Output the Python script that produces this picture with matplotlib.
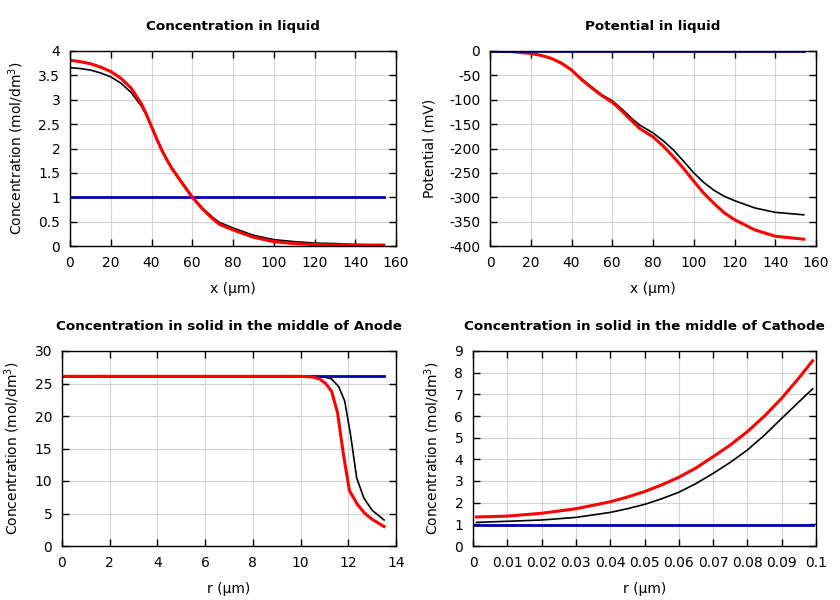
import matplotlib
matplotlib.use("Agg")
import matplotlib.pyplot as plt
from matplotlib.ticker import FuncFormatter, MultipleLocator

# ---- Data ----
# Concentration in liquid
liq_x = [0, 5, 10, 15, 20, 25, 30, 35, 37.5, 40, 42.5, 45, 47.5, 50, 55, 60, 65, 70, 73.5,
         80, 90, 100, 110, 120, 130, 140, 154]
liq_c_red = [3.81, 3.78, 3.74, 3.67, 3.58, 3.44, 3.24, 2.92, 2.70, 2.45, 2.20, 1.97, 1.77, 1.59,
             1.29, 1.00, 0.76, 0.56, 0.44, 0.33, 0.18, 0.09, 0.05, 0.03, 0.02, 0.02, 0.02]
liq_c_black = [3.66, 3.64, 3.61, 3.55, 3.47, 3.34, 3.15, 2.87, 2.68, 2.46, 2.22, 1.99, 1.79, 1.61,
               1.31, 1.02, 0.78, 0.59, 0.48, 0.37, 0.22, 0.13, 0.09, 0.06, 0.05, 0.03, 0.02]
liq_c_blue_x = [0, 154]
liq_c_blue = [1.0, 1.0]

# Potential in liquid
pot_x = [0, 10, 20, 25, 30, 35, 40, 45, 50, 55, 60, 65, 70, 73.5, 80, 85, 90, 95, 100, 105,
         110, 115, 120, 130, 140, 154]
pot_red = [0, -1, -5, -9, -15, -25, -39, -59, -76, -92, -105, -124, -145, -159, -176, -195, -217,
           -241, -267, -292, -313, -332, -346, -367, -380, -386]
pot_black = [0, -1, -5, -9, -15, -24, -38, -57, -74, -90, -102, -120, -140, -152, -168, -184, -203,
             -226, -250, -270, -286, -298, -307, -322, -331, -336]
pot_blue_x = [0, 154]
pot_blue = [0, 0]

# Concentration in solid, anode
an_x_black = [0.1, 2, 4, 6, 8, 10, 10.5, 10.8, 11.0, 11.3, 11.6, 11.85, 12.1, 12.35, 12.65, 13.0, 13.5]
an_black = [26.1, 26.1, 26.1, 26.1, 26.1, 26.1, 26.1, 26.05, 26.0, 25.7, 24.5, 22.3, 17.0, 10.5, 7.4, 5.5, 4.0]
an_x_red = [0.1, 2, 4, 6, 8, 10, 10.5, 10.8, 11.05, 11.3, 11.55, 11.8, 12.05, 12.4, 12.7, 13.0, 13.5]
an_red = [26.1, 26.1, 26.1, 26.1, 26.1, 26.1, 26.0, 25.7, 25.0, 23.8, 20.5, 14.0, 8.5, 6.3, 5.0, 4.1, 3.0]
an_blue_x = [0.1, 13.5]
an_blue = [26.1, 26.1]

# Concentration in solid, cathode
ca_x = [0.001, 0.01, 0.02, 0.03, 0.04, 0.045, 0.05, 0.055, 0.06, 0.065, 0.07, 0.075,
        0.08, 0.085, 0.09, 0.095, 0.099]
ca_red = [1.34, 1.38, 1.51, 1.72, 2.04, 2.26, 2.51, 2.82, 3.17, 3.60, 4.12, 4.66,
          5.28, 6.00, 6.82, 7.75, 8.55]
ca_black = [1.09, 1.14, 1.20, 1.32, 1.55, 1.72, 1.92, 2.18, 2.48, 2.88, 3.35, 3.86,
            4.43, 5.12, 5.89, 6.65, 7.25]
ca_blue_x = [0.0, 0.099]
ca_blue = [0.97, 0.97]

titles = ["Concentration in liquid", "Potential in liquid",
          "Concentration in solid in the middle of Anode",
          "Concentration in solid in the middle of Cathode"]

RED = "#ff0000"
BLUE = "#0000b0"
BLACK = "#000000"

fig = plt.figure(figsize=(8.4, 6.0), dpi=100)
W, H = 840.0, 600.0

def make_ax(l, r, t, b):
    return fig.add_axes([l / W, (H - b) / H, (r - l) / W, (b - t) / H])

def style(ax, title, xlabel, ylabel):
    ax.set_title(title, fontsize=9.7, fontweight="bold", pad=15)
    ax.set_xlabel(xlabel, fontsize=10, labelpad=9)
    ax.set_ylabel(ylabel, fontsize=10, labelpad=9)
    ax.tick_params(direction="in", length=5, width=1, top=True, right=True,
                   labelsize=10, pad=7)
    ax.grid(True, color="#d3d3d3", linewidth=0.8)
    ax.set_axisbelow(True)
    for s in ax.spines.values():
        s.set_linewidth(1.0)
    ax.xaxis.set_major_formatter(FuncFormatter(lambda v, p: "%g" % round(v, 6)))
    ax.yaxis.set_major_formatter(FuncFormatter(lambda v, p: "%g" % round(v, 6)))

conc_label = "Concentration (mol/dm$^3$)"

ax1 = make_ax(70, 396, 51, 246)
ax1.plot(liq_x, liq_c_black, color=BLACK, lw=1.2)
ax1.plot(liq_c_blue_x, liq_c_blue, color=BLUE, lw=2.0)
ax1.plot(liq_x, liq_c_red, color=RED, lw=2.2)
ax1.set_xlim(0, 160)
ax1.set_ylim(0, 4)
ax1.xaxis.set_major_locator(MultipleLocator(20))
ax1.yaxis.set_major_locator(MultipleLocator(0.5))
style(ax1, titles[0], "x (\u03bcm)", conc_label)

ax2 = make_ax(490, 816, 51, 246)
ax2.plot(pot_x, pot_black, color=BLACK, lw=1.2)
ax2.plot(pot_x, pot_red, color=RED, lw=2.2)
ax2.plot(pot_blue_x, pot_blue, color=BLUE, lw=2.0)
ax2.set_xlim(0, 160)
ax2.set_ylim(-400, 0)
ax2.xaxis.set_major_locator(MultipleLocator(20))
ax2.yaxis.set_major_locator(MultipleLocator(50))
style(ax2, titles[1], "x (\u03bcm)", "Potential (mV)")

ax3 = make_ax(62, 396, 351, 546)
ax3.plot(an_x_black, an_black, color=BLACK, lw=1.2)
ax3.plot(an_blue_x, an_blue, color=BLUE, lw=2.0)
ax3.plot(an_x_red, an_red, color=RED, lw=2.2)
ax3.set_xlim(0, 14)
ax3.set_ylim(0, 30)
ax3.xaxis.set_major_locator(MultipleLocator(2))
ax3.yaxis.set_major_locator(MultipleLocator(5))
style(ax3, titles[2], "r (\u03bcm)", conc_label)

ax4 = make_ax(473, 816, 351, 546)
ax4.plot(ca_x, ca_black, color=BLACK, lw=1.2)
ax4.plot(ca_blue_x, ca_blue, color=BLUE, lw=2.0)
ax4.plot(ca_x, ca_red, color=RED, lw=2.2)
ax4.set_xlim(0, 0.1)
ax4.set_ylim(0, 9)
ax4.xaxis.set_major_locator(MultipleLocator(0.01))
ax4.yaxis.set_major_locator(MultipleLocator(1))
style(ax4, titles[3], "r (\u03bcm)", conc_label)

fig.savefig("out.png", dpi=100)
